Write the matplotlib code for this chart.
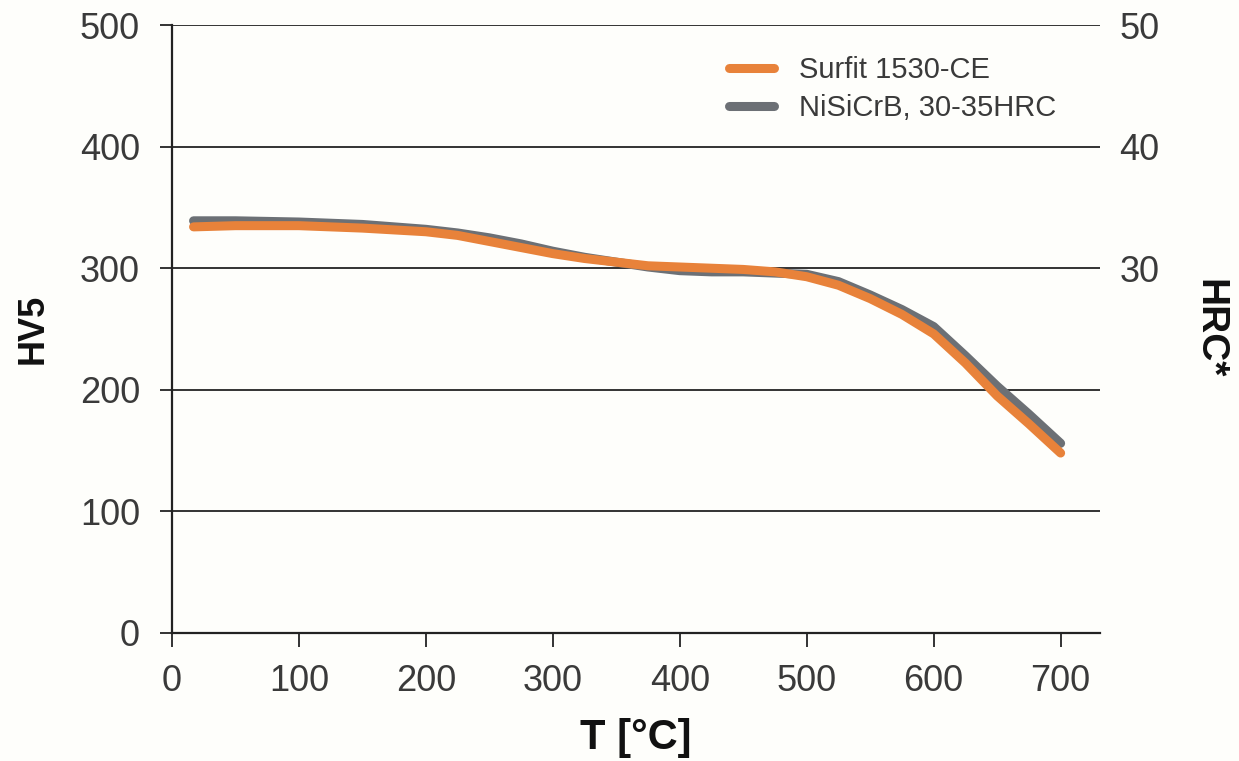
import matplotlib
matplotlib.use("Agg")
import matplotlib.pyplot as plt

temps = [17, 50, 100, 150, 200, 225, 250, 275, 300, 325, 350, 375, 400, 425, 450, 475, 500,
         525, 550, 575, 600, 625, 650, 675, 700]
surfit = [334, 335, 335, 333, 330, 327, 322, 317, 312, 308, 305, 302, 301, 300, 299, 297, 293,
          286, 275, 262, 246, 222, 195, 172, 148]
nisicrb = [339, 339, 338, 336, 332, 329, 325, 320, 314, 309, 305, 301, 298, 297, 297, 296, 295,
           289, 278, 266, 252, 228, 203, 180, 156]
series_names = ["Surfit 1530-CE", "NiSiCrB, 30-35HRC"]
x_ticks = [0, 100, 200, 300, 400, 500, 600, 700]
hv_ticks = [0, 100, 200, 300, 400, 500]
hrc_ticks = [30, 40, 50]

plt.rcParams['font.family'] = ['Liberation Sans', 'DejaVu Sans']
bg = '#fefefb'
orange = '#E8823A'
grey = '#6C7075'
txt = '#3a3a3a'

fig = plt.figure(figsize=(12.39, 7.61), dpi=100, facecolor=bg)
ax = fig.add_axes([0.1388, 0.1682, 0.8878 - 0.1388, 0.9671 - 0.1682])
ax.set_facecolor(bg)

ax.set_xlim(0, 731)
ax.set_ylim(0, 500)

for v in hv_ticks[1:]:
    ax.axhline(v, color='#333333', lw=1.4, zorder=1)

ln2, = ax.plot(temps, nisicrb, color=grey, lw=6.5, solid_capstyle='round',
               solid_joinstyle='round', zorder=3, label=series_names[1])
ln1, = ax.plot(temps, surfit, color=orange, lw=6.5, solid_capstyle='round',
               solid_joinstyle='round', zorder=4, label=series_names[0])

for s in ['top', 'right']:
    ax.spines[s].set_visible(False)
for s in ['left', 'bottom']:
    ax.spines[s].set_color('#222222')
    ax.spines[s].set_linewidth(1.6)

ax.set_xticks(x_ticks)
ax.set_yticks(hv_ticks)
ax.tick_params(axis='x', direction='out', length=10, width=1.4, color='#333333',
               labelsize=26, labelcolor=txt, pad=12)
ax.tick_params(axis='y', direction='out', length=9, width=1.4, color='#333333',
               labelsize=26, labelcolor=txt, pad=14)

ax.set_xlabel('T [°C]', fontsize=30, fontweight='bold', color='#111111', labelpad=14)
ax.set_ylabel('HV5', fontsize=26, fontweight='bold', color='#111111', labelpad=21)

ax2 = ax.twinx()
ax2.set_ylim(0, 50)
ax2.set_yticks(hrc_ticks)
for s in ax2.spines.values():
    s.set_visible(False)
ax2.tick_params(axis='y', length=0, labelsize=26, labelcolor=txt, pad=14)
ax2.set_ylabel('HRC*', fontsize=28, fontweight='bold', color='#111111', rotation=270,
               labelpad=49)

leg = ax.legend(handles=[ln1, ln2], loc='upper left', bbox_to_anchor=(0.572, 0.992),
                frameon=False, fontsize=21, handlelength=1.55, handletextpad=0.85,
                labelspacing=0.35, labelcolor=txt)

fig.savefig('out.png', dpi=100, facecolor=bg)
